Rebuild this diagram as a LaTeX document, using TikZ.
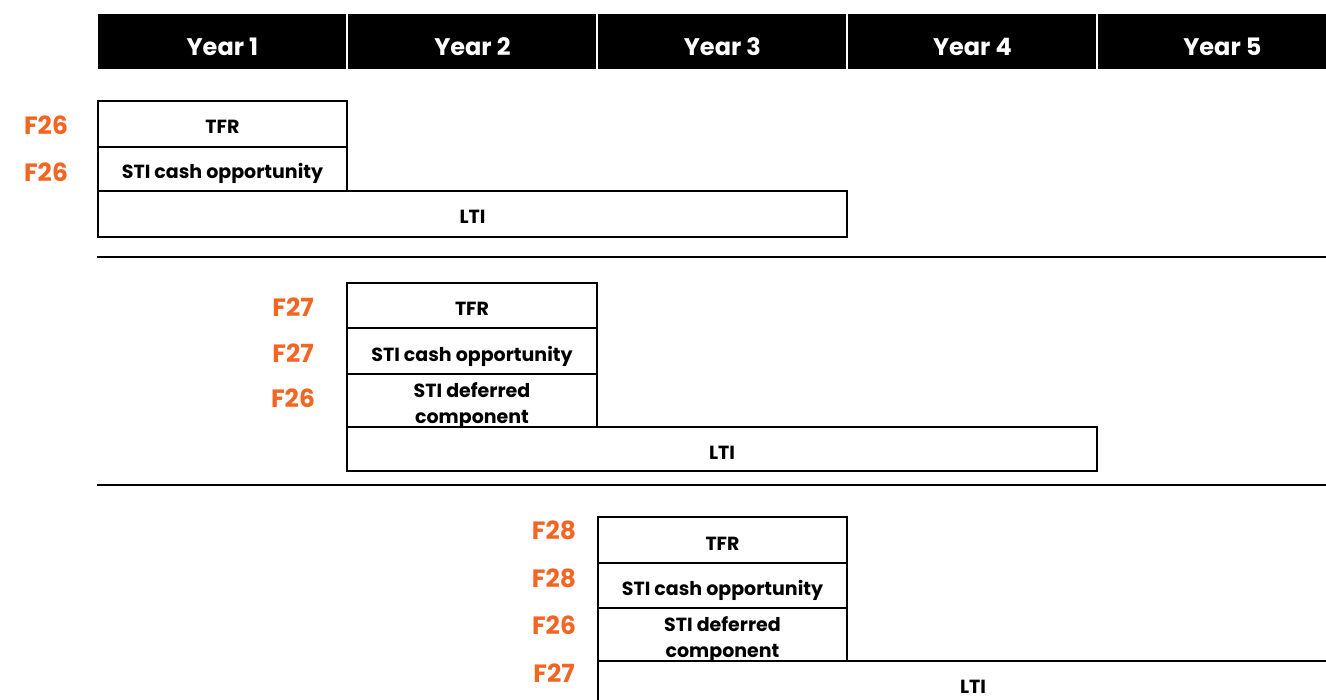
\documentclass[tikz,border=0pt]{standalone}
\usepackage{fontspec}
\setmainfont{Poppins}
\definecolor{fyorange}{HTML}{F26522}
\begin{document}
\begin{tikzpicture}[x=0.5pt, y=-0.5pt,
        every node/.style = {inner sep=0pt, align=center},
        yearcell/.style = {fill=black, text=white, anchor=north west,
            font=\bfseries\fontsize{12}{14}\selectfont,
            text height=13.4pt, text depth=0pt,
            minimum width=124pt, minimum height=27.5pt},
        paybox/.style = {draw, line width=1pt, anchor=north west,
            font=\bfseries\fontsize{9.5}{13}\selectfont,
            text height=10pt, text depth=0pt},
        twoline/.style = {text height=22.5pt, text depth=0pt},
        fyear/.style = {text=fyorange, font=\bfseries\fontsize{12.5}{15}\selectfont}]
    \useasboundingbox (0,0) rectangle (1326,700);
    \clip (0,0) rectangle (1326,700);

    % header
    \foreach \n in {1,...,5}
        \node[yearcell] (year\n) at ({98+250*(\n-1)},14) {Year \n};

    % first year grant
    \node[paybox, minimum width=124.5pt, minimum height=23pt] (tfrA) at (97,100) {TFR};
    \node[paybox, minimum width=124.5pt, minimum height=22pt] (cashA) at (97,146) {STI cash opportunity};
    \node[paybox, minimum width=374.5pt, minimum height=23pt] (ltiA) at (97,190) {LTI};
    \node[fyear] (fA1) at (46,125) {F26};
    \node[fyear] (fA2) at (46,172) {F26};

    \draw[line width=1pt] (97,257) -- (1326,257);

    % second year grant
    \node[paybox, minimum width=125pt, minimum height=22.5pt] (tfrB) at (346,282) {TFR};
    \node[paybox, minimum width=125pt, minimum height=23pt] (cashB) at (346,327) {STI cash opportunity};
    \node[paybox, twoline, minimum width=125pt, minimum height=26.5pt] (defB) at (346,373) {STI deferred\\component};
    \node[paybox, minimum width=375pt, minimum height=22pt] (ltiB) at (346,426) {LTI};
    \node[fyear] (fB1) at (293,307) {F27};
    \node[fyear] (fB2) at (293,353) {F27};
    \node[fyear] (fB3) at (293,398) {F26};

    \draw[line width=1pt] (97,485) -- (1326,485);

    % third year grant
    \node[paybox, minimum width=124.5pt, minimum height=23pt] (tfrC) at (597,516) {TFR};
    \node[paybox, minimum width=124.5pt, minimum height=22.5pt] (cashC) at (597,562) {STI cash opportunity};
    \node[paybox, twoline, minimum width=124.5pt, minimum height=26.5pt] (defC) at (597,607) {STI deferred\\component};
    \node[paybox, minimum width=375pt, minimum height=22pt] (ltiC) at (597,660) {LTI};
    \node[fyear] (fC1) at (554,530) {F28};
    \node[fyear] (fC2) at (554,578) {F28};
    \node[fyear] (fC3) at (554,625) {F26};
    \node[fyear] (fC4) at (554,673) {F27};
\end{tikzpicture}
\end{document}
